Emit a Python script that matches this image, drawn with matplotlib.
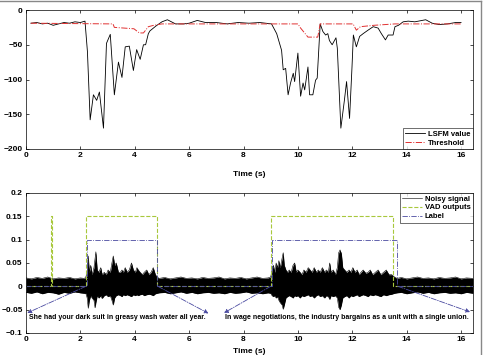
import numpy as np
import matplotlib
matplotlib.use('Agg')
import matplotlib.pyplot as plt
from matplotlib.lines import Line2D

plt.rcParams['font.family'] = ['Liberation Sans', 'DejaVu Sans']
plt.rcParams['font.weight'] = 'bold'
plt.rcParams['font.size'] = 6

# ---- top panel: LSFM value and threshold ----
lsfm_t = [0.18, 0.4, 0.6, 0.8, 1.0, 1.2, 1.4, 1.6, 1.8, 2.0,
          2.17, 2.26, 2.36, 2.48, 2.6, 2.7, 2.85, 2.96, 3.1, 3.25,
          3.4, 3.53, 3.65, 3.8, 3.95, 4.07, 4.2, 4.32, 4.4, 4.5,
          4.56, 4.78, 5.0, 5.2, 5.5, 5.8, 6.0, 6.3, 6.6, 7.0,
          7.4, 7.8, 8.2, 8.6, 9.03, 9.22, 9.4, 9.46, 9.55, 9.64,
          9.73, 9.83, 9.88, 9.93, 10.0, 10.1, 10.19, 10.25, 10.37, 10.43,
          10.55, 10.65, 10.71, 10.82, 10.92, 11.02, 11.1, 11.16, 11.26, 11.4,
          11.45, 11.58, 11.71, 11.79, 11.9, 11.99, 12.04, 12.15, 12.27, 12.4,
          12.58, 12.77, 12.95, 13.07, 13.22, 13.32, 13.5, 13.57, 13.7, 13.87,
          14.06, 14.3, 14.7, 14.94, 15.2, 15.5, 15.8, 16.0]
lsfm_v = [-19, -18, -20, -19, -22, -20, -18, -19, -17, -18,
          -16, -60, -158, -122, -130, -118, -170, -48, -35, -122,
          -75, -97, -53, -52, -87, -57, -71, -50, -50, -34,
          -30, -23, -17, -14, -20, -20, -19, -15, -18, -18,
          -20, -18, -19, -18, -20, -34, -58, -86, -84, -122,
          -105, -91, -103, -86, -62, -124, -105, -115, -82, -122,
          -122, -101, -98, -20, -31, -36, -34, -44, -50, -40,
          -55, -170, -130, -103, -156, -82, -36, -53, -38, -34,
          -29, -24, -26, -34, -43, -36, -36, -24, -22, -17,
          -16, -17, -14, -19, -21, -20, -18, -18]

thr_t = [0.18, 3.2, 3.25, 3.97, 4.17, 4.32, 4.5, 4.7, 5.0, 10.0,
         10.1, 10.37, 10.73, 10.82, 12.03, 12.15, 12.3, 12.8, 13.57, 16.0]
thr_v = [-19, -20, -25, -27, -33, -33, -24, -22, -20, -20,
         -26, -39, -39, -20, -20, -29, -24, -22, -20, -20]

top_yticks = [-200, -150, -100, -50, 0]
xticks = [0, 2, 4, 6, 8, 10, 12, 14, 16]

# ---- bottom panel: noisy signal envelope ----
sig_t = [0.0, 0.2, 0.4, 0.6, 0.8, 1.0, 1.2, 1.4, 1.6, 1.8, 2.0, 2.15,
         2.2, 2.25, 2.29, 2.33, 2.38, 2.43, 2.5, 2.54, 2.57, 2.62,
         2.68, 2.75, 2.8, 2.88, 2.95, 3.02, 3.1, 3.16, 3.21, 3.26,
         3.32, 3.4, 3.47, 3.53, 3.58, 3.65, 3.72, 3.8, 3.88, 3.95,
         4.02, 4.08, 4.13, 4.2, 4.28, 4.35, 4.44, 4.52, 4.6, 4.68,
         4.76, 4.82,
         4.9, 5.1, 5.3, 5.5, 5.7, 5.9, 6.1, 6.3, 6.5, 6.7,
         6.9, 7.1, 7.3, 7.5, 7.7, 7.9, 8.1, 8.3, 8.5, 8.7,
         8.9,
         9.0, 9.05, 9.1, 9.15, 9.2, 9.25, 9.3, 9.35, 9.42, 9.46,
         9.5, 9.56, 9.62, 9.68, 9.75, 9.82, 9.88, 9.94, 10.0, 10.08,
         10.15, 10.22, 10.3, 10.38, 10.45, 10.52, 10.6, 10.68, 10.75, 10.82,
         10.9, 10.98, 11.05, 11.12, 11.17, 11.22, 11.3, 11.38, 11.45, 11.5,
         11.55, 11.6, 11.65, 11.72, 11.8, 11.88, 11.95, 12.02, 12.1, 12.18,
         12.25, 12.32, 12.4, 12.5, 12.58, 12.66, 12.75, 12.85, 12.95, 13.05,
         13.15, 13.25, 13.35, 13.45, 13.55,
         13.65, 13.8, 14.0, 14.2, 14.4, 14.6, 14.8, 15.0, 15.2, 15.4,
         15.6, 15.8, 16.0, 16.2, 16.44]
sig_hi = [0.018, 0.016, 0.019, 0.017, 0.02, 0.016, 0.018, 0.017, 0.019, 0.016, 0.018, 0.017,
          0.02, 0.03, 0.065, 0.03, 0.045, 0.025, 0.04, 0.06, 0.074, 0.035,
          0.03, 0.04, 0.025, 0.03, 0.025, 0.035, 0.03, 0.05, 0.065, 0.045,
          0.05, 0.03, 0.03, 0.035, 0.03, 0.04, 0.03, 0.035, 0.05, 0.035,
          0.03, 0.04, 0.035, 0.03, 0.025, 0.03, 0.035, 0.025, 0.03, 0.04,
          0.025, 0.02,
          0.017, 0.019, 0.016, 0.018, 0.02, 0.017, 0.018, 0.016, 0.019, 0.017,
          0.018, 0.02, 0.016, 0.018, 0.017, 0.019, 0.016, 0.018, 0.02, 0.017,
          0.018,
          0.02, 0.035, 0.045, 0.03, 0.05, 0.04, 0.055, 0.04, 0.06, 0.072,
          0.045, 0.035, 0.03, 0.035, 0.03, 0.045, 0.05, 0.03, 0.035, 0.03,
          0.025, 0.035, 0.03, 0.04, 0.035, 0.03, 0.04, 0.03, 0.035, 0.03,
          0.04, 0.03, 0.035, 0.03, 0.05, 0.03, 0.035, 0.025, 0.04, 0.072,
          0.078, 0.07, 0.04, 0.035, 0.03, 0.035, 0.03, 0.04, 0.03, 0.035,
          0.025, 0.03, 0.035, 0.028, 0.03, 0.035, 0.025, 0.03, 0.035, 0.025,
          0.03, 0.035, 0.025, 0.025, 0.02,
          0.017, 0.019, 0.016, 0.018, 0.02, 0.017, 0.018, 0.016, 0.019, 0.017,
          0.018, 0.02, 0.016, 0.018, 0.017]
sig_lo = [-0.013, -0.015, -0.012, -0.016, -0.013, -0.014, -0.017, -0.013, -0.015, -0.012, -0.014, -0.015,
          -0.015, -0.025, -0.047, -0.03, -0.02, -0.025, -0.03, -0.046, -0.035, -0.02,
          -0.025, -0.02, -0.026, -0.02, -0.018, -0.022, -0.02, -0.03, -0.04, -0.025,
          -0.02, -0.018, -0.02, -0.022, -0.018, -0.02, -0.018, -0.02, -0.022, -0.018,
          -0.02, -0.018, -0.02, -0.018, -0.017, -0.02, -0.018, -0.017, -0.018, -0.02,
          -0.016, -0.015,
          -0.014, -0.013, -0.016, -0.014, -0.012, -0.015, -0.013, -0.016, -0.014, -0.013,
          -0.015, -0.014, -0.016, -0.013, -0.015, -0.014, -0.012, -0.015, -0.014, -0.016,
          -0.014,
          -0.015, -0.02, -0.022, -0.02, -0.025, -0.022, -0.03, -0.035, -0.04, -0.049,
          -0.04, -0.025, -0.022, -0.02, -0.022, -0.025, -0.02, -0.022, -0.02, -0.025,
          -0.02, -0.022, -0.02, -0.018, -0.022, -0.02, -0.025, -0.02, -0.018, -0.022,
          -0.02, -0.025, -0.02, -0.022, -0.028, -0.02, -0.022, -0.02, -0.025, -0.045,
          -0.05, -0.04, -0.025, -0.022, -0.02, -0.025, -0.02, -0.022, -0.02, -0.018,
          -0.022, -0.02, -0.018, -0.02, -0.022, -0.018, -0.02, -0.018, -0.02, -0.022,
          -0.018, -0.02, -0.018, -0.017, -0.015,
          -0.014, -0.013, -0.016, -0.014, -0.012, -0.015, -0.013, -0.016, -0.014, -0.013,
          -0.015, -0.014, -0.016, -0.013, -0.015]

vad_on = [(0.92, 0.96), (2.21, 4.81), (9.0, 13.51)]
vad_level = 0.15
label_on = [(2.26, 4.83), (9.06, 13.66)]
label_level = 0.1

sentences = ['She had your dark suit in greasy wash water all year.',
             'In wage negotiations, the industry bargains as a unit with a single union.']
sent_x = [0.12, 7.33]
sent_y = -0.066
# arrows: (start x, end x, end y)
arrows = [(2.2, 0.05, -0.057), (4.85, 6.71, -0.058),
          (9.0, 7.28, -0.057), (13.68, 16.33, -0.055)]

bot_yticks = [-0.1, -0.05, 0, 0.05, 0.1, 0.15, 0.2]
bot_ylabels = ['\u22120.1', '\u22120.05', '0', '0.05', '0.1', '0.15', '0.2']

x_max = 16.44
vad_color = '#a8c83c'
lab_color = '#4a4aa0'


def step_series(segments, level):
    xs, ys = [0.0], [0.0]
    for a, b in segments:
        xs += [a, a, b, b]
        ys += [0.0, level, level, 0.0]
    xs.append(x_max)
    ys.append(0.0)
    return xs, ys


def style_axes(ax):
    ax.set_xlim(0, x_max)
    ax.set_xticks(xticks)
    ax.tick_params(direction='in', length=2.5, width=0.5, top=True, right=True,
                   pad=2.5, labelsize=6)
    for s in ax.spines.values():
        s.set_linewidth(0.5)
    ax.set_xlabel('Time (s)', fontweight='bold', fontsize=6)


def legend_box(ax, loc):
    leg = ax.legend(loc=loc, fontsize=5.5, frameon=True, fancybox=False,
                    borderpad=0.3, handlelength=2.6, labelspacing=0.2,
                    handletextpad=0.4, borderaxespad=0)
    leg.get_frame().set_edgecolor('black')
    leg.get_frame().set_linewidth(0.5)
    return leg


fig = plt.figure(figsize=(4.83, 3.55), dpi=100)
ax1 = fig.add_axes([0.0538, 0.5803, 0.9255, 0.3915])
ax2 = fig.add_axes([0.0538, 0.0620, 0.9255, 0.3944])

# top
ax1.plot(lsfm_t, lsfm_v, color='black', lw=0.6, label='LSFM value')
ax1.plot(thr_t, thr_v, color='#e03030', lw=0.7, ls='-.', label='Threshold')
ax1.set_ylim(-200, 0)
ax1.set_yticks(top_yticks)
style_axes(ax1)
ax1.xaxis.labelpad = 8
legend_box(ax1, 'lower right')

# bottom
ax2.fill_between(sig_t, sig_lo, sig_hi, color='black', lw=0)
ax2.plot(sig_t, sig_hi, color='black', lw=0.4, label='Noisy signal')
ax2.plot(sig_t, sig_lo, color='black', lw=0.4)
vx, vy = step_series(vad_on, vad_level)
ax2.plot(vx, vy, color=vad_color, lw=0.8, ls='--', label='VAD outputs')
lx, ly = step_series(label_on, label_level)
ax2.plot(lx, ly, color=lab_color, lw=0.6, ls='-.', label='Label')

for x0, x1, y1 in arrows:
    ax2.annotate('', xy=(x1, y1), xytext=(x0, 0.0),
                 arrowprops=dict(arrowstyle='-|>', color=lab_color, lw=0.6,
                                 ls='-.', mutation_scale=6,
                                 shrinkA=0, shrinkB=0))
for sx, s in zip(sent_x, sentences):
    ax2.text(sx, sent_y, s, fontsize=5.0, fontweight='bold', va='center', ha='left')

ax2.set_ylim(-0.1, 0.2)
ax2.set_yticks(bot_yticks)
ax2.set_yticklabels(bot_ylabels)
style_axes(ax2)
ax2.xaxis.labelpad = 3
legend_box(ax2, 'upper right')

# grey frame at top and right edge
fig.add_artist(Line2D([0, 0.996], [0.998, 0.998], transform=fig.transFigure,
                      color='#888888', lw=1))
fig.add_artist(Line2D([0.996, 0.996], [0, 0.998], transform=fig.transFigure,
                      color='#888888', lw=1))

fig.savefig('out.png', dpi=100)
